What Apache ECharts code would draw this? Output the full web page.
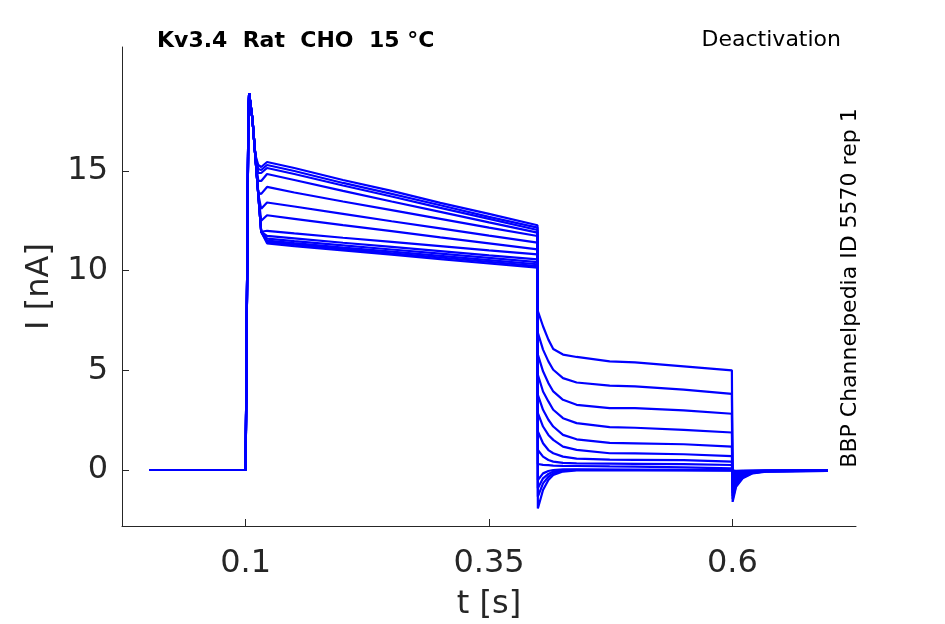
<!DOCTYPE html>
<html>
  <head>
    <meta charset="utf-8" />
    <title>Kv3.4 Rat CHO 15 °C - Deactivation</title>
    <script src="https://cdn.jsdelivr.net/npm/echarts@6.0.0/dist/echarts.min.js"></script>
    <style>
      html,
      body {
        margin: 0;
        padding: 0;
        background: #fff;
      }
      #chart {
        width: 945px;
        height: 624px;
      }
    </style>
  </head>
  <body>
    <div id="chart"></div>
    <script type="text/javascript">
      // tick positions
      const xTicks = [0.1, 0.35, 0.6];
      const yTicks = [0, 5, 10, 15];

      // holding before the step (same for every sweep)
      const tPre = [0.001, 0.1];
      const iPre = [0, 0];

      // onset spike, shared by all sweeps
      const tSpike = [0.1008, 0.1028, 0.1036, 0.107];
      const iSpike = [5, 17.8, 18.9, 17.6];

      // activation step, one row per sweep
      const tAct = [0.11, 0.113, 0.116, 0.122, 0.15, 0.2, 0.25, 0.3, 0.35, 0.3998];
      const iAct = [
        [15.8, 15.3, 15.2, 15.45, 15.15, 14.55, 14.0, 13.4, 12.85, 12.28],
        [15.75, 15.1, 15.05, 15.3, 15.0, 14.4, 13.85, 13.28, 12.7, 12.16],
        [15.72, 14.9, 14.9, 15.15, 14.85, 14.27, 13.72, 13.15, 12.6, 12.04],
        [15.72, 14.5, 14.5, 14.85, 14.55, 14.0, 13.47, 12.95, 12.42, 11.91],
        [15.72, 13.9, 13.85, 14.2, 13.92, 13.47, 13.04, 12.6, 12.16, 11.74],
        [15.72, 13.83, 13.1, 13.42, 13.22, 12.85, 12.48, 12.12, 11.76, 11.41],
        [15.72, 13.83, 12.5, 12.78, 12.6, 12.28, 11.98, 11.67, 11.37, 11.07],
        [15.72, 13.83, 11.95, 12.0, 11.87, 11.65, 11.44, 11.23, 11.02, 10.82],
        [15.72, 13.83, 11.95, 11.74, 11.62, 11.4, 11.19, 10.98, 10.77, 10.57],
        [15.72, 13.83, 11.95, 11.61, 11.48, 11.27, 11.06, 10.85, 10.64, 10.43],
        [15.72, 13.83, 11.95, 11.51, 11.38, 11.16, 10.95, 10.74, 10.53, 10.32],
        [15.72, 13.83, 11.95, 11.44, 11.31, 11.09, 10.87, 10.66, 10.44, 10.23],
        [15.72, 13.83, 11.95, 11.37, 11.23, 11.02, 10.8, 10.58, 10.36, 10.15],
      ];

      // tail currents
      const tTail = [0.4002, 0.4055, 0.411, 0.416, 0.426, 0.44, 0.474, 0.5, 0.55, 0.5995];
      const iTail = [
        [7.97, 7.21, 6.54, 6.07, 5.79, 5.67, 5.45, 5.4, 5.2, 5.0],
        [6.88, 6.04, 5.45, 5.03, 4.61, 4.39, 4.23, 4.19, 4.03, 3.82],
        [5.79, 4.95, 4.36, 3.94, 3.52, 3.27, 3.1, 3.1, 2.99, 2.82],
        [4.78, 3.94, 3.44, 3.02, 2.6, 2.35, 2.15, 2.12, 2.01, 1.88],
        [3.77, 3.02, 2.52, 2.18, 1.76, 1.54, 1.36, 1.34, 1.29, 1.17],
        [2.85, 2.18, 1.76, 1.51, 1.17, 1.01, 0.84, 0.83, 0.79, 0.7],
        [1.93, 1.34, 1.0, 0.84, 0.67, 0.57, 0.52, 0.51, 0.49, 0.42],
        [1.0, 0.67, 0.5, 0.42, 0.36, 0.33, 0.32, 0.31, 0.29, 0.25],
        [0.3, 0.26, 0.24, 0.22, 0.21, 0.2, 0.18, 0.17, 0.13, 0.08],
        [-0.5, -0.17, -0.05, 0.0, 0.03, 0.03, 0.02, 0.02, 0.01, 0.0],
        [-0.92, -0.42, -0.2, -0.08, 0.0, 0.01, 0.01, 0.0, 0.0, 0.0],
        [-1.34, -0.67, -0.34, -0.17, -0.03, 0.0, 0.0, 0.0, -0.01, -0.02],
        [-1.93, -1.0, -0.5, -0.25, -0.08, -0.02, -0.01, -0.02, -0.02, -0.03],
      ];

      // back to holding
      const tOff = [0.6003, 0.6038, 0.6106, 0.6208, 0.6345, 0.698];
      const iOff = [
        [-1.6, -0.84, -0.42, -0.17, -0.08, -0.04],
        [-1.45, -0.76, -0.38, -0.15, -0.07, -0.04],
        [-1.3, -0.68, -0.34, -0.14, -0.07, -0.03],
        [-1.15, -0.6, -0.3, -0.12, -0.06, -0.03],
        [-1.0, -0.52, -0.27, -0.11, -0.06, -0.03],
        [-0.85, -0.45, -0.23, -0.1, -0.05, -0.03],
        [-0.7, -0.37, -0.19, -0.08, -0.05, -0.03],
        [-0.55, -0.29, -0.15, -0.07, -0.04, -0.03],
        [-0.42, -0.22, -0.12, -0.06, -0.04, -0.03],
        [-0.3, -0.16, -0.09, -0.05, -0.04, -0.03],
        [-0.2, -0.11, -0.06, -0.04, -0.03, -0.03],
        [-0.12, -0.07, -0.05, -0.04, -0.03, -0.03],
        [-0.06, -0.04, -0.03, -0.03, -0.03, -0.03],
      ];

      const FONT = "DejaVu Sans";
      const AXIS_COLOR = "#262626";

      function zip(ts, vs) {
        return ts.map((t, k) => [t, vs[k]]);
      }

      const series = iAct.map((act, n) => ({
        type: "line",
        showSymbol: false,
        silent: true,
        lineStyle: { color: "#0000ff", width: 2.2 },
        data: [].concat(
          zip(tPre, iPre),
          zip(tSpike, iSpike),
          zip(tAct, act),
          zip(tTail, iTail[n]),
          zip(tOff, iOff[n])
        ),
      }));

      const chart = echarts.init(document.getElementById("chart"));
      chart.setOption({
        animation: false,
        backgroundColor: "#fff",
        grid: { left: 122, right: 89, top: 47, bottom: 98, outerBoundsMode: "none" },
        xAxis: {
          type: "value",
          min: -0.027,
          max: 0.727,
          name: "t [s]",
          nameLocation: "middle",
          nameGap: 63,
          nameTextStyle: { fontFamily: FONT, fontSize: 32, color: AXIS_COLOR },
          axisLine: { show: true, onZero: false, lineStyle: { color: AXIS_COLOR, width: 1 } },
          axisTick: { show: true, inside: true, length: 7, customValues: xTicks, lineStyle: { color: AXIS_COLOR } },
          axisLabel: {
            customValues: xTicks,
            margin: 22,
            fontFamily: FONT,
            fontSize: 32,
            color: AXIS_COLOR,
            formatter: (v) => String(v),
          },
          splitLine: { show: false },
        },
        yAxis: {
          type: "value",
          min: -2.81,
          max: 21.22,
          name: "I [nA]",
          nameLocation: "middle",
          nameGap: 66,
          nameTextStyle: { fontFamily: FONT, fontSize: 32, color: AXIS_COLOR },
          axisLine: { show: true, onZero: false, lineStyle: { color: AXIS_COLOR, width: 1 } },
          axisTick: { show: true, inside: true, length: 7, customValues: yTicks, lineStyle: { color: AXIS_COLOR } },
          axisLabel: {
            customValues: yTicks,
            margin: 14,
            fontFamily: FONT,
            fontSize: 32,
            color: AXIS_COLOR,
          },
          splitLine: { show: false },
        },
        graphic: [
          {
            type: "text",
            x: 157,
            y: 41,
            style: {
              text: "Kv3.4  Rat  CHO  15 °C",
              font: "bold 22px " + FONT,
              fill: "#000",
              align: "left",
              verticalAlign: "middle",
            },
          },
          {
            type: "text",
            x: 841,
            y: 40,
            style: {
              text: "Deactivation",
              font: "22px " + FONT,
              fill: "#000",
              align: "right",
              verticalAlign: "middle",
            },
          },
          {
            type: "text",
            x: 850,
            y: 288,
            rotation: Math.PI / 2,
            style: {
              text: "BBP Channelpedia ID 5570 rep 1",
              font: "22px " + FONT,
              fill: "#000",
              align: "center",
              verticalAlign: "middle",
            },
          },
        ],
        series: series,
      });
    </script>
  </body>
</html>
